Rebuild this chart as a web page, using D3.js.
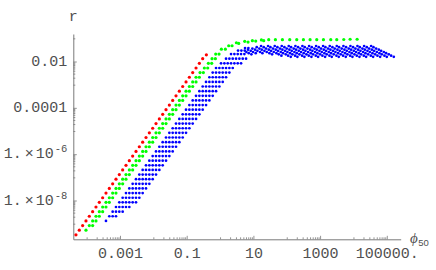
<!DOCTYPE html>
<html><head><meta charset="utf-8">
<script src="https://cdn.jsdelivr.net/npm/d3@7"></script>
<style>body{margin:0;background:#fff}svg{display:block}</style>
</head><body>
<svg id="c" width="436" height="270"></svg>
<script>
// values are log10 of the plotted quantities
// red / green: [log10 phi50, log10 r]
const red = [[-4.32,-9.48],[-4.22,-9.28],[-4.12,-9.08],[-4.02,-8.88],[-3.92,-8.68],[-3.82,-8.48],[-3.72,-8.28],[-3.62,-8.08],[-3.52,-7.88],[-3.42,-7.68],[-3.32,-7.48],[-3.22,-7.28],[-3.12,-7.08],[-3.02,-6.88],[-2.92,-6.68],[-2.82,-6.48],[-2.72,-6.28],[-2.62,-6.08],[-2.52,-5.88],[-2.42,-5.68],[-2.32,-5.48],[-2.22,-5.28],[-2.12,-5.08],[-2.02,-4.88],[-1.92,-4.68],[-1.82,-4.48],[-1.72,-4.28],[-1.62,-4.08],[-1.52,-3.88],[-1.42,-3.68],[-1.32,-3.48],[-1.22,-3.28],[-1.12,-3.08],[-1.02,-2.88],[-0.92,-2.68],[-0.82,-2.48],[-0.72,-2.28],[-0.62,-2.08],[-0.52,-1.88],[-0.41,-1.71]];

const green = [[-4.02,-9.28],
[-3.92,-9.08],[-3.82,-9.08],[-3.82,-8.88],[-3.72,-8.88],[-3.72,-8.68],[-3.62,-8.68],[-3.62,-8.48],[-3.52,-8.48],
[-3.52,-8.28],[-3.42,-8.28],[-3.42,-8.08],[-3.32,-8.08],[-3.32,-7.88],[-3.22,-7.88],[-3.22,-7.68],[-3.12,-7.68],
[-3.12,-7.48],[-3.02,-7.48],[-3.02,-7.28],[-2.92,-7.28],[-2.92,-7.08],[-2.82,-7.08],[-2.82,-6.88],[-2.72,-6.88],
[-2.72,-6.68],[-2.62,-6.68],[-2.62,-6.48],[-2.52,-6.48],[-2.52,-6.28],[-2.42,-6.28],[-2.42,-6.08],[-2.32,-6.08],
[-2.32,-5.88],[-2.22,-5.88],[-2.22,-5.68],[-2.12,-5.68],[-2.12,-5.48],[-2.02,-5.48],[-2.02,-5.28],[-1.92,-5.28],
[-1.92,-5.08],[-1.82,-5.08],[-1.82,-4.88],[-1.72,-4.88],[-1.72,-4.68],[-1.62,-4.68],[-1.62,-4.48],[-1.52,-4.48],
[-1.52,-4.28],[-1.42,-4.28],[-1.42,-4.08],[-1.32,-4.08],[-1.32,-3.88],[-1.22,-3.88],[-1.22,-3.68],[-1.12,-3.68],
[-1.12,-3.48],[-1.02,-3.48],[-1.02,-3.28],[-0.92,-3.28],[-0.92,-3.08],[-0.82,-3.08],[-0.82,-2.88],[-0.72,-2.88],
[-0.72,-2.68],[-0.62,-2.68],[-0.60,-2.48],[-0.50,-2.48],[-0.47,-2.28],[-0.37,-2.28],[-0.35,-2.08],[-0.25,-2.08],
[-0.24,-1.88],[-0.14,-1.88],[-0.13,-1.68],[-0.03,-1.68],[0.04,-1.47],[0.16,-1.47],[0.26,-1.32],[0.36,-1.32],
[0.49,-1.19],[0.56,-1.22],[0.74,-1.13],[0.84,-1.16],[0.97,-1.10],[1.07,-1.12],[1.24,-1.07],[1.31,-1.10],
[1.46,-1.06],[1.66,-1.06],[1.87,-1.06],[2.09,-1.06],[2.30,-1.06],[2.50,-1.06],[2.70,-1.06],[2.90,-1.06],
[3.10,-1.06],[3.32,-1.06],[3.50,-1.06],[3.71,-1.05],[3.90,-1.04],[4.11,-1.04]];

// blue: each row is [log10 r, log10 phi50 of every dot at that r]
const blueRows = [
[-8.88,-3.42],
[-8.68,-3.32,-3.22,-3.12],
[-8.48,-3.22,-3.12,-3.02,-2.92],
[-8.28,-3.12,-3.02,-2.92,-2.82,-2.72],
[-8.08,-3.02,-2.92,-2.82,-2.72,-2.62,-2.52],
[-7.88,-2.92,-2.82,-2.72,-2.62,-2.52,-2.42],
[-7.68,-2.82,-2.72,-2.62,-2.52,-2.42,-2.32],
[-7.48,-2.72,-2.62,-2.52,-2.42,-2.32,-2.22],
[-7.28,-2.62,-2.52,-2.42,-2.32,-2.22,-2.12],
[-7.08,-2.52,-2.42,-2.32,-2.22,-2.12,-2.02],
[-6.88,-2.42,-2.32,-2.22,-2.12,-2.02,-1.92],
[-6.68,-2.32,-2.22,-2.12,-2.02,-1.92,-1.82],
[-6.48,-2.22,-2.12,-2.02,-1.92,-1.82,-1.72],
[-6.28,-2.12,-2.02,-1.92,-1.82,-1.72,-1.62],
[-6.08,-2.02,-1.92,-1.82,-1.72,-1.62,-1.52],
[-5.88,-1.92,-1.82,-1.72,-1.62,-1.52,-1.42],
[-5.68,-1.82,-1.72,-1.62,-1.52,-1.42,-1.32],
[-5.48,-1.72,-1.62,-1.52,-1.42,-1.32,-1.22],
[-5.28,-1.62,-1.52,-1.42,-1.32,-1.22,-1.12],
[-5.08,-1.52,-1.42,-1.32,-1.22,-1.12,-1.02],
[-4.88,-1.42,-1.32,-1.22,-1.12,-1.02,-0.92],
[-4.68,-1.32,-1.22,-1.12,-1.02,-0.92,-0.82],
[-4.48,-1.22,-1.12,-1.02,-0.92,-0.82,-0.72],
[-4.28,-1.12,-1.02,-0.92,-0.82,-0.72,-0.62],
[-4.08,-1.02,-0.92,-0.82,-0.72,-0.62,-0.52],
[-3.88,-0.92,-0.82,-0.72,-0.62,-0.52,-0.42],
[-3.68,-0.82,-0.72,-0.62,-0.52,-0.42,-0.32],
[-3.48,-0.72,-0.62,-0.52,-0.42,-0.32,-0.22],
[-3.28,-0.62,-0.52,-0.42,-0.32,-0.22,-0.12],
[-3.08,-0.52,-0.42,-0.32,-0.22,-0.12,-0.02],
[-2.88,-0.42,-0.32,-0.22,-0.12,-0.02,0.08],
[-2.68,-0.32,-0.22,-0.12,-0.02,0.08,0.18],
[-2.48,-0.22,-0.12,-0.02,0.08,0.18,0.28],
[-2.28,-0.12,-0.02,0.08,0.18,0.28,0.38],
[-2.08,0.03,0.13,0.23,0.33,0.43,0.53,0.63],
[-1.88,0.18,0.28,0.38,0.48,0.58,0.68,0.78],
[-1.68,0.33,0.43,0.53,0.63,0.73],
[-1.53,0.54,0.64,0.74],
[-1.42,0.75,0.85],
// plateau: slanted strips of dots
[-1.33,1.23,1.44,1.64,1.85,2.06,2.26,2.47,2.67,2.88,3.09,3.29,3.50,3.70,3.91,4.12,4.32,4.53],
[-1.38,1.10,1.31,1.51,1.72,1.93,2.13,2.34,2.54,2.75,2.96,3.16,3.37,3.57,3.78,3.99,4.19,4.40,4.60],
[-1.44,0.97,1.18,1.38,1.59,1.80,2.00,2.21,2.41,2.62,2.83,3.03,3.24,3.44,3.65,3.86,4.06,4.27,4.47,4.68],
[-1.49,0.84,1.05,1.25,1.46,1.67,1.87,2.08,2.28,2.49,2.70,2.90,3.11,3.31,3.52,3.73,3.93,4.14,4.34,4.55,4.76],
[-1.54,0.92,1.12,1.33,1.53,1.74,1.95,2.15,2.36,2.56,2.77,2.98,3.18,3.39,3.59,3.80,4.01,4.21,4.42,4.62,4.83],
[-1.59,0.79,0.99,1.20,1.40,1.61,1.82,2.02,2.23,2.43,2.64,2.85,3.05,3.26,3.46,3.67,3.88,4.08,4.29,4.49,4.70,4.91],
[-1.64,0.86,1.07,1.27,1.48,1.69,1.89,2.10,2.30,2.51,2.72,2.92,3.13,3.33,3.54,3.75,3.95,4.16,4.36,4.57,4.78,4.98],
[-1.69,0.94,1.56,1.76,1.97,2.17,2.38,2.59,2.79,3.00,3.20,3.41,3.62,3.82,4.03,4.23,4.44,4.65,4.85,5.06],
[-1.75,1.84,2.04,2.25,2.46,2.66,2.87,3.07,3.28,3.49,3.69,3.90,4.10,4.31,4.52,4.72,4.93,5.13],
[-1.80,2.12,2.32,2.53,2.74,2.94,3.15,3.35,3.56,3.77,3.97,4.18,4.38,4.59,4.80,5.00,5.21]
];

const xMajor = [1e-3, 1e-1, 1e1, 1e3, 1e5];
const xLabels = ["0.001", "0.1", "10", "1000", "100000."];
const yMajor = [1e-2, 1e-4, 1e-6, 1e-8];
const yLabels = [["0.01"], ["0.0001"], ["1.", "-6"], ["1.", "-8"]];
const xMinorExp = [-4, -2, 0, 2, 4];
const yMinorExp = [-9, -7, -5, -3, -1];
const xDomainExp = [-4.40, 5.417];
const yDomainExp = [-9.674, -0.813];

const svg = d3.select("#c");
const L = 73.3, R = 400.7, B = 239.3, T = 34;
const x = d3.scaleLog().domain(xDomainExp.map(e => 10 ** e)).range([L, R]);
const y = d3.scaleLog().domain(yDomainExp.map(e => 10 ** e)).range([B, T]);

const mono = "'Liberation Mono','DejaVu Sans Mono',monospace";
const axisCol = "#7a7a7a", textCol = "#505050";

function minors(exps, dom) {
  const out = [];
  exps.forEach(e => { for (let m = 1; m <= 9; m++) { const v = m * 10 ** e; if (v >= dom[0] && v <= dom[1]) out.push(v); } });
  return out;
}
const xMin = minors(xMinorExp, x.domain());
const yMin = minors(yMinorExp, y.domain());

// x axis
const gx = svg.append("g").attr("transform", `translate(0,${B})`);
gx.call(d3.axisBottom(x).tickValues(xMajor).tickSizeInner(-3.5).tickSizeOuter(0).tickPadding(8)
  .tickFormat((d, i) => xLabels[i]));
const gxm = svg.append("g").attr("transform", `translate(0,${B})`);
gxm.call(d3.axisBottom(x).tickValues(xMin).tickSizeInner(-2).tickSizeOuter(0).tickFormat(""));
gxm.select(".domain").remove();

// y axis
const gy = svg.append("g").attr("transform", `translate(${L},0)`);
gy.call(d3.axisLeft(y).tickValues(yMajor).tickSizeInner(-3.5).tickSizeOuter(0).tickPadding(6).tickFormat(""));
const gym = svg.append("g").attr("transform", `translate(${L},0)`);
gym.call(d3.axisLeft(y).tickValues(yMin).tickSizeInner(-2).tickSizeOuter(0).tickFormat(""));
gym.select(".domain").remove();

svg.selectAll(".domain").attr("stroke", axisCol).attr("stroke-width", 1);
svg.selectAll(".tick line").attr("stroke", axisCol).attr("stroke-width", 0.8);
gx.selectAll(".tick text").attr("font-family", mono).attr("font-size", 15).attr("fill", textCol);

// y tick labels with mantissa and superscript
gy.selectAll(".tick").each(function (d, i) {
  const lab = yLabels[i];
  const t = d3.select(this).select("text").text(null)
    .attr("x", -6).attr("dy", "0.24em").attr("text-anchor", "end")
    .attr("font-family", mono).attr("font-size", 15).attr("fill", textCol);
  if (lab.length === 1) { t.text(lab[0]); }
  else {
    t.append("tspan").text(lab[0]);
    t.append("tspan").attr("dx", 3).text("\u00d7");
    t.append("tspan").attr("dx", 2).text("10");
    t.append("tspan").attr("dx", 1).attr("dy", -6).attr("font-size", 10.5).text(lab[1]);
  }
});

// axis titles
svg.append("text").attr("x", L).attr("y", 21).attr("text-anchor", "middle")
  .attr("font-family", mono).attr("font-size", 15).attr("fill", textCol).text("r");
const xt = svg.append("text").attr("x", 410).attr("y", 243).attr("fill", textCol);
xt.append("tspan").attr("font-family", "'Liberation Serif','DejaVu Serif',serif").attr("font-style", "italic").attr("font-size", 15).text("\u03d5");
xt.append("tspan").attr("font-family", "'Liberation Sans',Arial,sans-serif").attr("font-size", 9.5).attr("dy", 3).attr("dx", 0.5).text("50");

// points
const plot = svg.append("g");
plot.selectAll("circle.r").data(red).join("circle").attr("class", "r")
  .attr("cx", d => x(10 ** d[0])).attr("cy", d => y(10 ** d[1])).attr("r", 1.6).attr("fill", "#ff0000");
plot.selectAll("circle.g").data(green).join("circle").attr("class", "g")
  .attr("cx", d => x(10 ** d[0])).attr("cy", d => y(10 ** d[1])).attr("r", 1.6).attr("fill", "#00ff00");
const bluePts = blueRows.flatMap(row => row.slice(1).map(p => [p, row[0]]));
plot.selectAll("circle.b").data(bluePts).join("circle").attr("class", "b")
  .attr("cx", d => x(10 ** d[0])).attr("cy", d => y(10 ** d[1])).attr("r", 1.35).attr("fill", "#0000ff");
</script>
</body></html>
